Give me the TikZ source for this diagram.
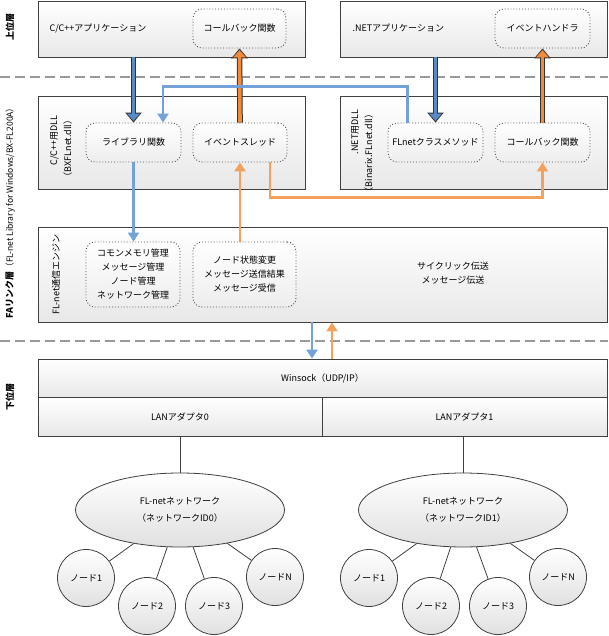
\documentclass[tikz,border=0pt]{standalone}
\usepackage{fontspec}
\newfontfamily\jp{Noto Sans CJK JP}
\usepackage{xcolor}
\usepackage{tikz}
\usetikzlibrary{shapes.geometric,arrows.meta,calc}

\definecolor{blkblue}{HTML}{5A8AC6}
\definecolor{blkorange}{HTML}{F28A3C}
\definecolor{lnblue}{HTML}{72A2D8}
\definecolor{lnorange}{HTML}{F4A15E}

\begin{document}
\begin{tikzpicture}[
    x=1pt, y=-1pt,
    every node/.style={font=\jp\fontsize{9}{14}\selectfont},
    tier/.style={rectangle, draw=black!75, line width=0.8pt, top color=white, bottom color=black!9, inner sep=0pt},
    func/.style={rectangle, draw=black!70, dotted, line width=0.9pt, rounded corners=9pt, top color=white, bottom color=black!7, align=center, inner sep=0pt},
    net/.style={ellipse, draw=black!75, line width=0.8pt, top color=white, bottom color=black!12, minimum width=209pt, minimum height=74pt, align=center, inner sep=0pt, font=\jp\fontsize{9}{17}\selectfont},
    stn/.style={circle, draw=black!75, line width=0.8pt, top color=white, bottom color=black!12, minimum size=57pt, inner sep=0pt},
    tag/.style={rotate=90, align=center},
    tiersep/.style={dash pattern=on 10pt off 5pt, draw=black!40, line width=1.3pt},
    bigout/.style={line width=5.6pt, black!80, -{Triangle[width=16pt,length=10pt]}},
    bigin/.style={line width=3.6pt, shorten >=1.7pt, -{Triangle[width=12.6pt,length=7.3pt]}},
    wire/.style={line width=2.8pt, -{Triangle[width=11pt,length=9pt]}},
    link/.style={draw=black!75, line width=0.8pt}
]
\useasboundingbox (0,0) rectangle (608,636);
% Layer tags
\node[tag, font=\jp\bfseries\fontsize{9}{11}\selectfont] (toptag) at (10,27) {上位層};
\node[tag, font=\jp\bfseries\fontsize{9}{11}\selectfont] (midtag) at (10,211) {FAリンク層{\mdseries\fontsize{8.5}{10}\selectfont （FL-net Library for Windows/BX-FL200A）}};
\node[tag, font=\jp\bfseries\fontsize{9}{11}\selectfont] (bottag) at (10,397) {下位層};
% Applications
\node[tier, minimum width=267pt, minimum height=56pt] (capp) at (171.5,29) {};
\node[anchor=west] (capptxt) at (46,28.5) {C/C++アプリケーション};
\node[func, minimum width=93pt, minimum height=39pt] (ccbk) at (239.5,28.5) {コールバック関数};
\node[tier, minimum width=267pt, minimum height=56pt] (napp) at (473.5,29) {};
\node[anchor=west] (napptxt) at (349,28.5) {.NETアプリケーション};
\node[func, minimum width=95pt, minimum height=39pt] (nevh) at (542.5,28.5) {イベントハンドラ};
% Separators
\draw[tiersep] (0,77) -- (608,77);
\draw[tiersep] (0,341) -- (608,341);
% DLLs
\node[tier, minimum width=267pt, minimum height=93pt] (cdll) at (171.5,142.5) {};
\node[tag, anchor=east, align=right] (cdlltxt) at (61,112) {C/C++用DLL\\（BXFLnet.dll）};
\node[func, minimum width=95pt, minimum height=39pt] (lib) at (133.5,142.5) {ライブラリ関数};
\node[func, minimum width=94pt, minimum height=39pt] (evt) at (240,142.5) {イベントスレッド};
\node[tier, minimum width=267pt, minimum height=93pt] (ndll) at (473.5,142.5) {};
\node[tag, anchor=east, align=right] (ndlltxt) at (362,106) {.NET用DLL\\（Binarix.FLnet.dll）};
\node[func, minimum width=95pt, minimum height=39pt] (cls) at (435.5,142.5) {FLnetクラスメソッド};
\node[func, minimum width=95pt, minimum height=39pt] (ncbk) at (542.5,142.5) {コールバック関数};
% Engine
\node[tier, minimum width=569pt, minimum height=95pt] (engine) at (322.5,274.5) {};
\node[tag] (enginetxt) at (56,274.5) {FL-net通信エンジン};
\node[func, minimum width=94pt, minimum height=65pt] (mgr) at (133,274.5) {コモンメモリ管理\\メッセージ管理\\ノード管理\\ネットワーク管理};
\node[func, minimum width=103pt, minimum height=65pt] (notice) at (244.5,274.5) {ノード状態変更\\メッセージ送信結果\\メッセージ受信};
\node[align=center] (xfer) at (453,273) {サイクリック伝送\\メッセージ伝送};
% Lower layer
\node[tier, minimum width=569pt, minimum height=38pt] (winsock) at (322.5,378) {Winsock（UDP/IP）};
\node[tier, minimum width=284pt, minimum height=39pt] (lan0) at (180,416.5) {LANアダプタ0};
\node[tier, minimum width=285pt, minimum height=39pt] (lan1) at (464.5,416.5) {LANアダプタ1};
% Networks
\node[net] (net0) at (180,510) {FL-netネットワーク\\（ネットワークID0）};
\node[net] (net1) at (463,510) {FL-netネットワーク\\（ネットワークID1）};
\node[stn] (n01) at (86,578) {ノード1};
\node[stn] (n02) at (147,606) {ノード2};
\node[stn] (n03) at (214,606) {ノード3};
\node[stn] (n0n) at (275,577) {ノードN};
\node[stn] (n11) at (369,578) {ノード1};
\node[stn] (n12) at (431,606) {ノード2};
\node[stn] (n13) at (498,606) {ノード3};
\node[stn] (n1n) at (558,577) {ノードN};
% Links
\draw[link] (lan0.south) -- (net0.north);
\draw[link] (lan1.south -| net1.north) -- (net1.north);
\draw[link] (net0) -- (n01);
\draw[link] (net0) -- (n02);
\draw[link] (net0) -- (n03);
\draw[link] (net0) -- (n0n);
\draw[link] (net1) -- (n11);
\draw[link] (net1) -- (n12);
\draw[link] (net1) -- (n13);
\draw[link] (net1) -- (n1n);
% Block arrows
\draw[bigout] (capp.south -| lib.north) -- (lib.north);
\draw[bigin, blkblue] (capp.south -| lib.north) -- (lib.north);
\draw[bigout] (evt.north) -- (ccbk.south);
\draw[bigin, blkorange] (evt.north) -- (ccbk.south);
\draw[bigout] (napp.south -| cls.north) -- (cls.north);
\draw[bigin, blkblue] (napp.south -| cls.north) -- (cls.north);
\draw[bigout] (ncbk.north) -- (nevh.south);
\draw[bigin, blkorange] (ncbk.north) -- (nevh.south);
% Thin arrows
\draw[wire, lnblue] ($(cls.north)+(-28,0)$) -- ++(0,-36) -| ($(lib.north)+(29.5,0)$);
\draw[wire, lnblue] (lib.south) -- (lib.south |- mgr.north);
\draw[wire, lnorange] (evt.south |- notice.north) -- (evt.south);
\draw[wire, lnorange] ($(evt.south)+(30,0)$) -- ++(0,35) -| (ncbk.south);
\draw[wire, lnblue] ($(engine.south)+(-10.5,0)$) -- ($(winsock.north)+(-10.5,0)$);
\draw[wire, lnorange] ($(winsock.north)+(9.5,0)$) -- ($(engine.south)+(9.5,0)$);
\end{tikzpicture}
\end{document}
